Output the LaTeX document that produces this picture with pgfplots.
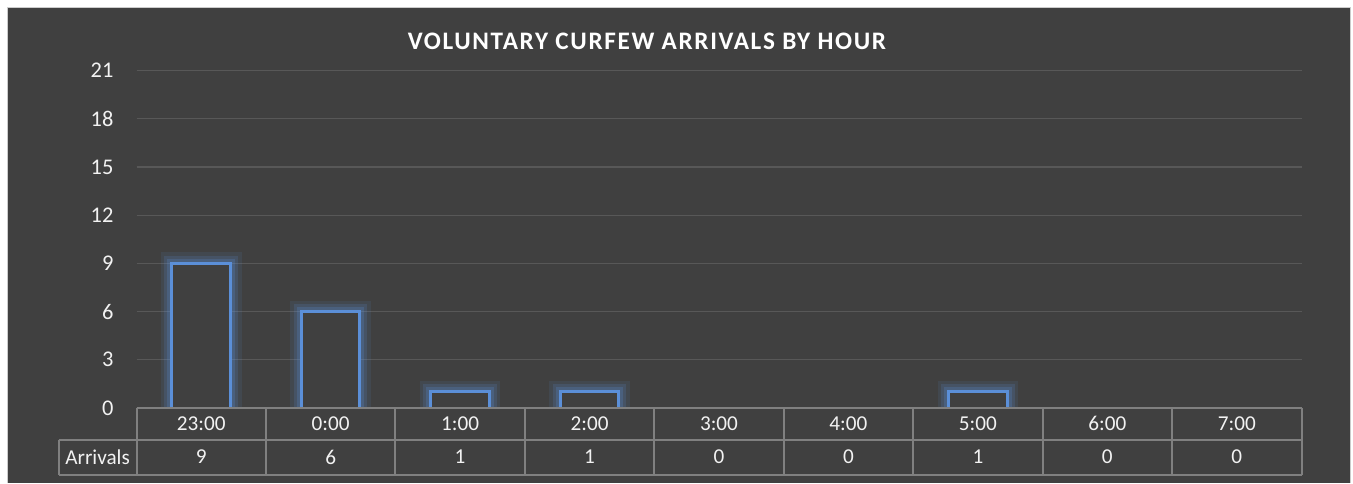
\documentclass[border=0pt]{standalone}
\usepackage{fontspec}
\setmainfont{Carlito}
\usepackage{pgfplots}
\usepackage{pgfplotstable}
\pgfplotsset{compat=1.18}

\definecolor{bg}{HTML}{404040}
\definecolor{gridc}{HTML}{585858}
\definecolor{tablec}{HTML}{808080}
\definecolor{barc}{HTML}{5B8FD8}
\definecolor{txt}{HTML}{F2F2F2}

\pgfplotstableread{
x hour arr
0 23:00 9
1 0:00 6
2 1:00 1
3 2:00 1
4 3:00 0
5 4:00 0
6 5:00 1
7 6:00 0
8 7:00 0
}\arrivals

\begin{document}
\begin{tikzpicture}
% page 1353x483 px, 1px = 0.5pt
\useasboundingbox[fill=white] (0,0) rectangle (676.5pt,241.5pt);
\fill[bg] (4pt,0) rectangle (675pt,237.5pt);
\draw[gray!40, line width=0.6pt] (3.8pt,0) -- (3.8pt,237.7pt) -- (675.2pt,237.7pt) -- (675.2pt,0);
\node[font=\fontsize{12.6}{14}\selectfont\bfseries\addfontfeature{LetterSpace=6.5}, text=white] at (323.5pt,220.8pt) {VOLUNTARY CURFEW ARRIVALS BY HOUR};

\begin{axis}[
  at={(68.25pt,37.5pt)}, anchor=south west,
  scale only axis, width=582.5pt, height=168.75pt,
  xmin=-0.5, xmax=8.5, ymin=0, ymax=21,
  ytick={0,3,...,21}, xtick=\empty,
  minor xtick={-0.5,0.5,...,8.5},
  ymajorgrids, xminorgrids,
  major grid style={gridc, line width=0.6pt},
  minor grid style={gridc, line width=0.6pt},
  axis line style={draw=none},
  major tick length=0pt, minor tick length=0pt,
  tick style={draw=none},
  yticklabel={\pgfmathprintnumber{\tick}},
  yticklabel style={text=txt, font=\fontsize{11.2}{13}\selectfont, xshift=-8pt},
  /pgf/number format/assume math mode=true,
  clip=false,
]
\addplot[ybar, bar width=0.453, draw=barc, line width=1.5pt, fill=bg,
  preaction={draw=barc, draw opacity=0.10, line width=11pt},
  preaction={draw=barc, draw opacity=0.16, line width=7.5pt},
  preaction={draw=barc, draw opacity=0.22, line width=4.5pt},
  y filter/.expression={y==0 ? nan : y}, unbounded coords=discard]
  table[x=x, y=arr] {\arrivals};
% hide glow below the axis
\fill[bg] (axis cs:-0.5,0) rectangle (axis cs:8.5,-1.9);
% data table grid
\draw[tablec, line width=1pt]
  (axis cs:-0.5,0) -- (axis cs:8.5,0)
  (axis cs:-1.101,-1.99) -- (axis cs:8.5,-1.99)
  (axis cs:-1.101,-4.17) -- (axis cs:8.5,-4.17)
  (axis cs:-1.101,-1.99) -- (axis cs:-1.101,-4.17);
\foreach \k in {-0.5,0.5,...,8.5} {
  \edef\tmp{\noexpand\draw[tablec, line width=1pt] (axis cs:\k,0) -- (axis cs:\k,-4.17);}\tmp
}
\node[text=txt, font=\fontsize{10.6}{12}\selectfont] at (axis cs:-0.8005,-3.05) {Arrivals};
% row of hours
\addplot[draw=none, mark=none, nodes near coords, point meta=explicit symbolic,
  every node near coord/.style={anchor=center, text=txt, font=\fontsize{10.6}{12}\selectfont}]
  table[x=x, y expr=-0.977, meta=hour] {\arrivals};
% row of values
\addplot[draw=none, mark=none, nodes near coords, point meta=explicit symbolic,
  every node near coord/.style={anchor=center, text=txt, font=\fontsize{10.6}{12}\selectfont}]
  table[x=x, y expr=-3.05, meta=arr] {\arrivals};
\end{axis}
\end{tikzpicture}
\end{document}
